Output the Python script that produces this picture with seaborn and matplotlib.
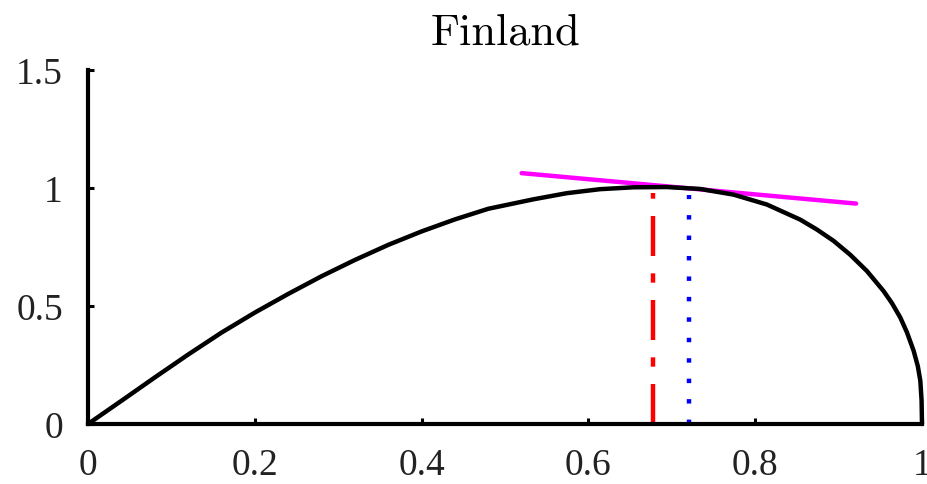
import numpy as np
import pandas as pd
import matplotlib
matplotlib.use("Agg")
import matplotlib.pyplot as plt
import seaborn as sns

sns.set_theme(style="white")
plt.rcParams['font.family'] = ['Liberation Serif', 'DejaVu Serif']

# curve
curve_x = [0, 0.04, 0.08, 0.12, 0.16, 0.20, 0.24, 0.28, 0.32, 0.36, 0.40, 0.44,
           0.48, 0.534, 0.574, 0.614, 0.654, 0.694, 0.734, 0.774, 0.814, 0.854,
           0.874, 0.894, 0.914, 0.934, 0.954, 0.964, 0.974, 0.982, 0.990, 0.995,
           0.998, 0.9995, 1.0]
curve_y = [0, 0.098, 0.197, 0.294, 0.387, 0.472, 0.551, 0.626, 0.695, 0.759,
           0.816, 0.867, 0.912, 0.952, 0.978, 0.995, 1.003, 1.004, 0.996, 0.972,
           0.930, 0.866, 0.824, 0.776, 0.717, 0.648, 0.563, 0.512, 0.451, 0.388,
           0.310, 0.245, 0.183, 0.10, 0.0]

# tangent line (magenta)
tangent_x = [0.520, 0.921]
tangent_y = [1.063, 0.934]

# vertical markers
red_x = [0.677, 0.677]
red_y = [0.0, 0.98]
blue_x = [0.721, 0.721]
blue_y = [0.0, 0.97]

xticks = [0, 0.2, 0.4, 0.6, 0.8, 1.0]
xtick_labels = ["0", "0.2", "0.4", "0.6", "0.8", "1"]
yticks = [0, 0.5, 1.0, 1.5]
ytick_labels = ["0", "0.5", "1", "1.5"]

fig, ax = plt.subplots(figsize=(9.27, 4.85), dpi=100)
fig.subplots_adjust(left=0.0949, right=0.9946, bottom=0.1237, top=0.8536)

curve = pd.DataFrame({"x": curve_x, "y": curve_y})
sns.lineplot(data=curve, x="x", y="y", ax=ax, color="black", linewidth=3.2,
             estimator=None, sort=False, clip_on=False, zorder=3)

sns.lineplot(x=tangent_x, y=tangent_y, ax=ax, color="#ff00ff", linewidth=3.2,
             estimator=None, sort=False, zorder=2)

sns.lineplot(x=red_x, y=red_y, ax=ax, color="#ff0000", linewidth=3.2,
             estimator=None, sort=False,
             linestyle=(0, (9.0, 3.9, 2.1, 3.9)), zorder=2)
sns.lineplot(x=blue_x, y=blue_y, ax=ax, color="#0000ff", linewidth=3.2,
             estimator=None, sort=False,
             linestyle=(0, (1, 3.6)), zorder=2)

ax.set_xlim(0, 1)
ax.set_ylim(0, 1.5)
ax.set_xticks(xticks)
ax.set_xticklabels(xtick_labels)
ax.set_yticks(yticks)
ax.set_yticklabels(ytick_labels)
ax.set_xlabel("")
ax.set_ylabel("")

for side in ["top", "right"]:
    ax.spines[side].set_visible(False)
for side in ["left", "bottom"]:
    ax.spines[side].set_color("black")
    ax.spines[side].set_linewidth(3.0)
    ax.spines[side].set_zorder(4)

ax.tick_params(axis="both", direction="in", length=4.5, width=2.2,
               color="black", labelsize=27, labelcolor="#222222",
               bottom=True, left=True)
ax.tick_params(axis="x", pad=17)
ax.tick_params(axis="y", pad=18)

ax.set_title("Finland", fontfamily="cmr10", fontsize=32, pad=19, color="black")

fig.savefig("out.png", dpi=100)
